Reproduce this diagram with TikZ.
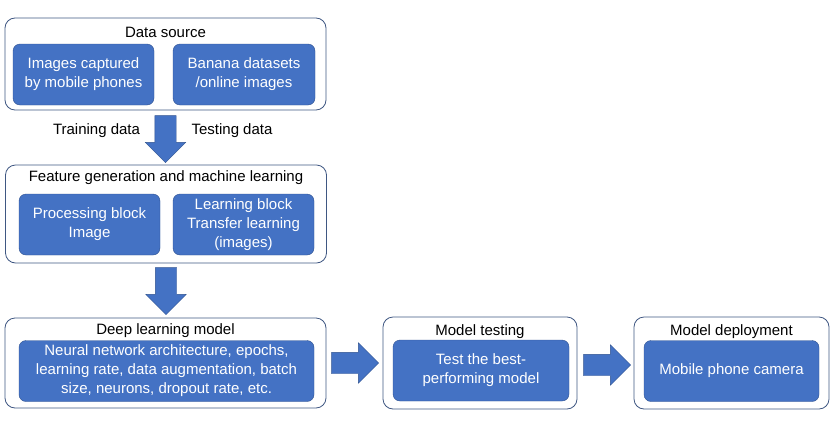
\documentclass[tikz,border=0pt]{standalone}
\usepackage{fontspec}
\setmainfont{Liberation Sans}
\usetikzlibrary{positioning, shapes.arrows, calc}
\definecolor{boxblue}{HTML}{4472C4}
\definecolor{edgeblue}{HTML}{2F528F}
\definecolor{framegray}{HTML}{3F5782}
\tikzstyle{group} = [draw=framegray, line width=0.8pt, rounded corners=10pt, minimum width=321pt, minimum height=92pt, inner sep=0pt]
\tikzstyle{block} = [draw=edgeblue, fill=boxblue, text=white, rounded corners=7pt, align=center, minimum width=141pt, minimum height=61pt, inner sep=0pt, font=\fontsize{15}{19}\selectfont]
\tikzstyle{title} = [font=\fontsize{15}{19}\selectfont, inner sep=0pt]
\tikzstyle{bigarrow} = [single arrow, draw=edgeblue, fill=boxblue, minimum height=47pt, minimum width=40pt, single arrow head extend=9.5pt, single arrow tip angle=90, inner sep=10.5pt, anchor=tail]

\begin{document}
\begin{tikzpicture}[x=1pt, y=-1pt]
    \useasboundingbox (0,0) rectangle (832,434);
    % Place the groups
    \node [group] (source) at (165.5,64) {};
    \node [title] (sourcetitle) at (165.5,32) {Data source};
    \node [block] (phones) at (83.5,74.5) {Images captured\\by mobile phones};
    \node [block, minimum width=142pt] (banana) at (244,74.5) {Banana datasets\\/online images};

    \node [group, minimum height=98pt] (feature) at (166,214) {};
    \node [title] (featuretitle) at (166,178) {Feature generation and machine learning};
    \node [block] (processing) at (89.5,224.5) {Processing block\\Image};
    \node [block] (learning) at (243.5,224.5) {Learning block\\Transfer learning\\(images)};

    \node [group, minimum height=90pt] (deep) at (165.5,363) {};
    \node [title] (deeptitle) at (165.5,331) {Deep learning model};
    \node [block, minimum width=295pt] (params) at (166.5,371) {Neural network architecture, epochs,\\learning rate, data augmentation, batch\\size, neurons, dropout rate, etc.};

    \node [group, minimum width=194pt, minimum height=92pt] (testing) at (480,363) {};
    \node [title] (testingtitle) at (480,332) {Model testing};
    \node [block, minimum width=176pt] (best) at (481,370.5) {Test the best-\\performing model};

    \node [group, minimum width=195pt, minimum height=92pt] (deploy) at (731.5,363) {};
    \node [title] (deploytitle) at (731.5,332) {Model deployment};
    \node [block, minimum width=175pt] (camera) at (731.5,371) {Mobile phone camera};

    % Connect the groups
    \node [bigarrow, shape border rotate=270] (a1) at ($(source.south)+(0,5)$) {};
    \node [title] (train) at (96.5,131) {Training data};
    \node [title] (test) at (232,131) {Testing data};
    \node [bigarrow, shape border rotate=270] (a2) at ($(feature.south)+(0,4)$) {};
    \node [bigarrow] (a3) at ($(deep.east)+(5,0)$) {};
    \node [bigarrow] (a4) at ($(testing.east)+(6,2)$) {};
\end{tikzpicture}
\end{document}
